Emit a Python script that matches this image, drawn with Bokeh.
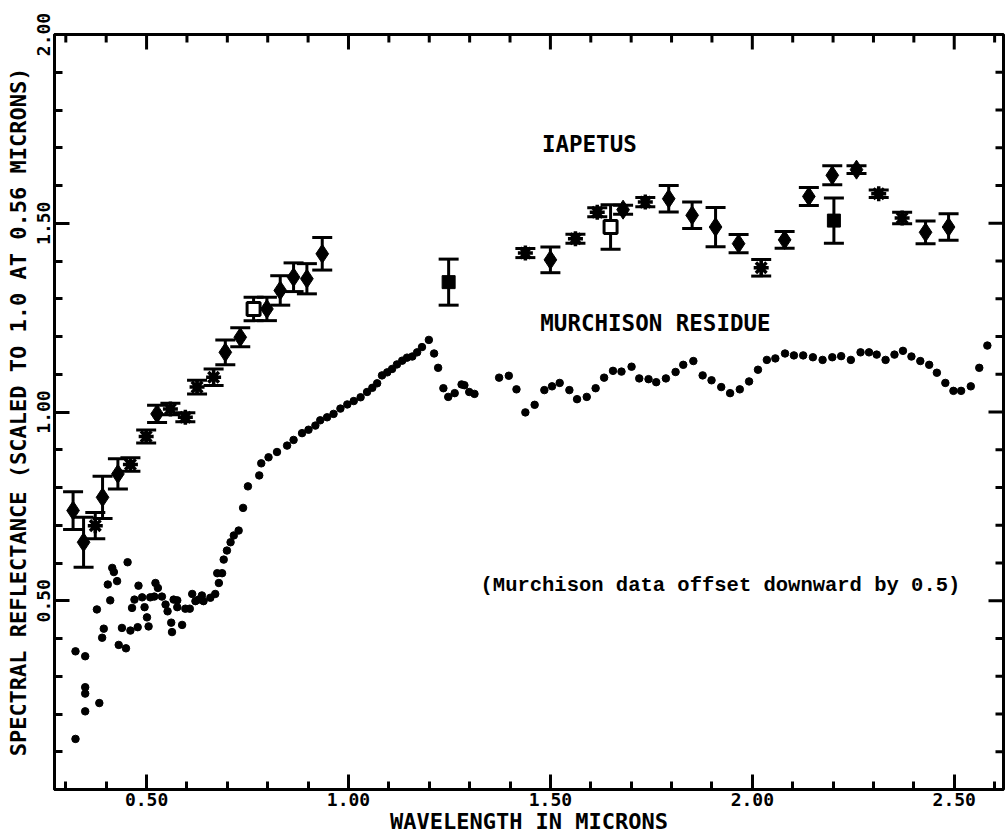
import numpy as np
from bokeh.plotting import figure
from bokeh.models import (ColumnDataSource, Whisker, TeeHead, FixedTicker,
                          Range1d, NumeralTickFormatter)
from bokeh.embed import file_html
from bokeh.resources import INLINE
from bokeh.core.properties import value

# Iapetus spectral reflectance, scaled to 1.0 at 0.56 micron
iap_wave = [0.318, 0.344, 0.373, 0.391, 0.429, 0.460, 0.499, 0.526, 0.559, 0.596,
            0.625, 0.666, 0.695, 0.732, 0.765, 0.798, 0.831, 0.864, 0.897, 0.935,
            1.248, 1.438, 1.500, 1.562, 1.616, 1.649, 1.680, 1.735, 1.793, 1.851,
            1.909, 1.966, 2.022, 2.080, 2.140, 2.198, 2.202, 2.258, 2.313, 2.371,
            2.429, 2.486]
iap_refl = [0.739, 0.655, 0.699, 0.774, 0.836, 0.861, 0.935, 0.995, 1.008, 0.986,
            1.066, 1.092, 1.158, 1.198, 1.273, 1.273, 1.322, 1.357, 1.353, 1.419,
            1.344, 1.421, 1.403, 1.459, 1.529, 1.490, 1.536, 1.556, 1.565, 1.521,
            1.490, 1.446, 1.382, 1.456, 1.571, 1.627, 1.507, 1.642, 1.578, 1.514,
            1.476, 1.490]
iap_err = [0.050, 0.066, 0.035, 0.056, 0.040, 0.018, 0.017, 0.023, 0.015, 0.012,
           0.018, 0.022, 0.033, 0.025, 0.031, 0.031, 0.039, 0.038, 0.040, 0.043,
           0.061, 0.012, 0.034, 0.012, 0.012, 0.059, 0.012, 0.012, 0.035, 0.035,
           0.052, 0.024, 0.022, 0.022, 0.024, 0.025, 0.060, 0.010, 0.010, 0.015,
           0.030, 0.035]
iap_symbol = ["diamond", "diamond", "asterisk", "diamond", "diamond", "asterisk",
              "asterisk", "diamond", "asterisk", "asterisk", "asterisk", "asterisk",
              "diamond", "diamond", "open", "diamond", "diamond", "diamond",
              "diamond", "diamond", "square", "asterisk", "diamond", "asterisk",
              "asterisk", "open", "diamond", "asterisk", "diamond", "diamond",
              "diamond", "diamond", "asterisk", "diamond", "diamond", "diamond",
              "square", "diamond", "asterisk", "asterisk", "diamond", "diamond"]

# Murchison residue laboratory spectrum (plotted offset downward)
murch_wave = [0.324, 0.324, 0.348, 0.348, 0.348, 0.348, 0.377, 0.383, 0.390, 0.394,
              0.404, 0.410, 0.415, 0.419, 0.427, 0.431, 0.439, 0.449, 0.453, 0.460,
              0.464, 0.470, 0.478, 0.480, 0.489, 0.495, 0.501, 0.505, 0.509, 0.519,
              0.522, 0.528, 0.538, 0.547, 0.552, 0.561, 0.563, 0.567, 0.576, 0.576,
              0.588, 0.596, 0.607, 0.613, 0.621, 0.629, 0.637, 0.641, 0.658, 0.670,
              0.679, 0.675, 0.687, 0.691, 0.699, 0.708, 0.716, 0.728, 0.739, 0.751,
              0.779, 0.784, 0.802, 0.823, 0.848, 0.864, 0.885, 0.901, 0.918, 0.930,
              0.947, 0.963, 0.980, 0.997, 1.013, 1.030, 1.046, 1.059, 1.071, 1.083,
              1.096, 1.108, 1.120, 1.133, 1.145, 1.158, 1.170, 1.182, 1.199, 1.212,
              1.222, 1.235, 1.247, 1.263, 1.280, 1.287, 1.299, 1.312, 1.373, 1.397,
              1.416, 1.438, 1.461, 1.485, 1.504, 1.523, 1.547, 1.566, 1.590, 1.612,
              1.633, 1.655, 1.676, 1.701, 1.720, 1.743, 1.762, 1.786, 1.810, 1.829,
              1.854, 1.877, 1.899, 1.923, 1.945, 1.969, 1.992, 2.014, 2.036, 2.057,
              2.081, 2.103, 2.126, 2.150, 2.174, 2.198, 2.220, 2.244, 2.268, 2.289,
              2.308, 2.330, 2.352, 2.373, 2.394, 2.416, 2.438, 2.457, 2.478, 2.498,
              2.517, 2.541, 2.562, 2.582]
murch_refl = [0.634, 0.866, 0.853, 0.771, 0.754, 0.707, 0.977, 0.729, 0.902, 0.926,
              1.043, 1.001, 1.087, 1.076, 1.052, 0.883, 0.928, 0.874, 1.102, 0.921,
              0.981, 1.003, 0.930, 1.040, 1.009, 0.983, 0.956, 0.932, 1.009, 1.011,
              1.047, 1.034, 1.011, 0.990, 0.972, 0.942, 0.917, 1.003, 1.001, 0.983,
              0.936, 0.979, 0.979, 1.018, 0.999, 1.003, 1.014, 0.999, 1.008, 1.018,
              1.047, 1.073, 1.073, 1.109, 1.133, 1.155, 1.173, 1.186, 1.246, 1.303,
              1.332, 1.364, 1.380, 1.394, 1.411, 1.426, 1.444, 1.453, 1.464, 1.478,
              1.486, 1.495, 1.509, 1.520, 1.529, 1.539, 1.553, 1.564, 1.576, 1.597,
              1.605, 1.614, 1.626, 1.636, 1.644, 1.647, 1.658, 1.672, 1.691, 1.655,
              1.617, 1.563, 1.540, 1.550, 1.573, 1.571, 1.553, 1.548, 1.591, 1.596,
              1.560, 1.499, 1.519, 1.558, 1.568, 1.577, 1.558, 1.534, 1.540, 1.563,
              1.591, 1.609, 1.607, 1.620, 1.589, 1.587, 1.579, 1.589, 1.606, 1.625,
              1.635, 1.597, 1.584, 1.566, 1.550, 1.560, 1.581, 1.612, 1.638, 1.642,
              1.655, 1.650, 1.650, 1.645, 1.638, 1.645, 1.648, 1.638, 1.658, 1.658,
              1.652, 1.638, 1.652, 1.662, 1.647, 1.635, 1.625, 1.604, 1.577, 1.556,
              1.556, 1.568, 1.617, 1.676]
MURCH_OFFSET = 0.5

x_ticks = [0.5, 1.0, 1.5, 2.0, 2.5]
x_tick_labels = ["0.50", "1.00", "1.50", "2.00", "2.50"]
y_ticks = [0.5, 1.0, 1.5, 2.0]
y_tick_labels = ["0.50", "1.00", "1.50", "2.00"]

X_MIN, X_MAX = 0.272, 2.622
Y_MIN, Y_MAX = 0.0, 2.0

PLOT_FONT = "DejaVu Sans Mono"
MAJOR_LEN, MINOR_LEN = 15, 8

p = figure(width=1006, height=839, x_range=Range1d(X_MIN, X_MAX), y_range=Range1d(Y_MIN, Y_MAX),
           output_backend="svg", toolbar_location=None,
           min_border_left=54, min_border_right=3, min_border_top=34, min_border_bottom=50)
p.grid.visible = False
p.background_fill_color = "white"
p.border_fill_color = "white"
p.outline_line_color = "black"
p.outline_line_width = 3

x_minor = list(np.round(np.arange(0.3, 2.61, 0.1), 2))
y_minor = list(np.round(np.arange(0.0, 2.01, 0.1), 2))


def style_axis(ax, ticks, minor, labels):
    ax.ticker = FixedTicker(ticks=ticks, minor_ticks=minor)
    ax.axis_line_width = 3
    ax.axis_line_color = "black"
    ax.major_tick_line_width = 3
    ax.minor_tick_line_width = 3
    ax.major_tick_out = 0
    ax.minor_tick_out = 0
    ax.major_tick_in = MAJOR_LEN
    ax.minor_tick_in = MINOR_LEN
    ax.formatter = NumeralTickFormatter(format="0.00")
    ax.major_label_overrides = {t: s for t, s in zip(ticks, labels)}
    ax.major_label_text_font = PLOT_FONT
    ax.major_label_text_font_style = "bold"
    ax.major_label_text_font_size = "18px"
    ax.major_label_text_color = "black"
    ax.axis_label_text_font = PLOT_FONT
    ax.axis_label_text_font_style = "bold"
    ax.axis_label_text_font_size = "22px"
    ax.axis_label_text_color = "black"


style_axis(p.xaxis[0], x_ticks, x_minor, x_tick_labels)
p.xaxis[0].axis_label = "WAVELENGTH IN MICRONS"
p.xaxis[0].major_label_standoff = 3
p.xaxis[0].axis_label_standoff = 0

style_axis(p.yaxis[0], y_ticks, y_minor, y_tick_labels)
p.yaxis[0].axis_label = "SPECTRAL REFLECTANCE (SCALED TO 1.0 AT 0.56 MICRONS)"
p.yaxis[0].major_label_orientation = "vertical"
p.yaxis[0].major_label_standoff = 5
p.yaxis[0].axis_label_standoff = 3

# Inward ticks along the top and right edges of the frame
x_major_set = set(x_ticks)
y_major_set = set(y_ticks)
top_len = [MAJOR_LEN if t in x_major_set else MINOR_LEN for t in x_minor]
right_len = [MAJOR_LEN if t in y_major_set else MINOR_LEN for t in y_minor]
p.ray(x=x_minor, y=[Y_MAX] * len(x_minor), length=top_len, length_units="screen",
      angle=-np.pi / 2, line_color="black", line_width=3)
p.ray(x=[X_MAX] * len(y_minor), y=y_minor, length=right_len, length_units="screen",
      angle=np.pi, line_color="black", line_width=3)

# Murchison residue dots
murch_plot = np.array(murch_refl) - MURCH_OFFSET
p.scatter(murch_wave, murch_plot, marker="circle", size=7.5, color="black")

# Iapetus error bars
wave = np.array(iap_wave)
refl = np.array(iap_refl)
err = np.array(iap_err)
sym = np.array(iap_symbol)
err_src = ColumnDataSource(dict(x=wave, upper=refl + err, lower=refl - err))
p.add_layout(Whisker(source=err_src, base="x", upper="upper", lower="lower",
                     dimension="height", line_color="black", line_width=3,
                     upper_head=TeeHead(size=20, line_width=3, line_color="black"),
                     lower_head=TeeHead(size=20, line_width=3, line_color="black")))

# Iapetus symbols
m = sym == "diamond"
p.scatter(wave[m], refl[m], marker="diamond", size=19, fill_color="black", line_color="black")
m = sym == "asterisk"
p.scatter(wave[m], refl[m], marker="asterisk", size=15, line_color="black", line_width=3.5)
m = sym == "square"
p.scatter(wave[m], refl[m], marker="square", size=13, fill_color="black", line_color="black")
m = sym == "open"
p.scatter(wave[m], refl[m], marker="square", size=13, fill_color="white",
          line_color="black", line_width=3)

# Series labels and note
p.text(x=[1.479], y=[1.710], text=["IAPETUS"], text_font=value(PLOT_FONT),
       text_font_style="bold", text_font_size="22.5px", text_baseline="middle",
       text_align="left", text_color="black")
p.text(x=[1.475], y=[1.2345], text=["MURCHISON RESIDUE"], text_font=value(PLOT_FONT),
       text_font_style="bold", text_font_size="22.5px", text_baseline="middle",
       text_align="left", text_color="black")
p.text(x=[1.327], y=[0.540], text=["(Murchison data offset downward by 0.5)"],
       text_font=value("Liberation Mono"), text_font_style="bold",
       text_font_size="20.5px", text_baseline="middle", text_align="left",
       text_color="black")

open("out.html", "w").write(file_html(p, INLINE))
